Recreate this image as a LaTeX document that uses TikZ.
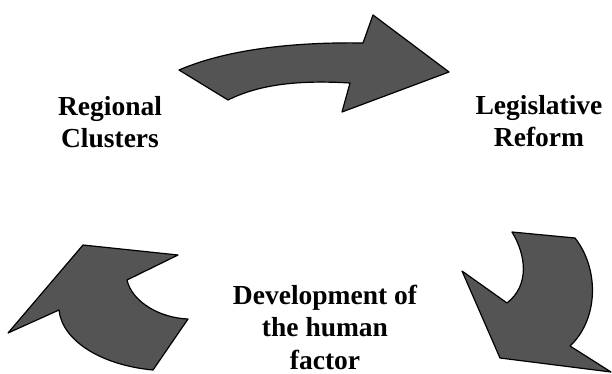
\documentclass[tikz,border=0pt]{standalone}
\usepackage{fontspec}
\setmainfont{Liberation Serif}
\definecolor{arrowfill}{RGB}{84,84,84}
\begin{document}
\begin{tikzpicture}[x=1pt,y=-1pt,
  cyclearrow/.style={fill=arrowfill,draw=black,line width=1.2pt,line join=round},
  label/.style={font=\bfseries\fontsize{27.5}{32.5}\selectfont,align=center,text=black}]
\useasboundingbox (0,0) rectangle (612,374);

% curved arrow: Regional Clusters -> Legislative Reform
\filldraw[cyclearrow] (179,70) .. controls (230,48) and (300,42) .. (363,43)
  -- (373,15) -- (449,72) -- (342,112) -- (350,83)
  .. controls (300,80) and (260,84) .. (228,100) -- cycle;

% curved arrow: Legislative Reform -> Development of the human factor
\filldraw[cyclearrow] (512,232) -- (575,238)
  .. controls (600,270) and (598,320) .. (570,346)
  -- (611,372) -- (500,358) -- (462,271) -- (507,303)
  .. controls (530,285) and (526,255) .. (512,232) -- cycle;

% curved arrow: Development of the human factor -> Regional Clusters
\filldraw[cyclearrow] (83,245) -- (178,255) -- (127,280)
  .. controls (132,302) and (160,318) .. (188,319)
  -- (153,370)
  .. controls (100,365) and (62,340) .. (59,310)
  -- (8,333) -- cycle;

\node[label] (rc) at (110,122) {Regional\\Clusters};
\node[label] (lr) at (539,121) {Legislative\\Reform};
\node[label] (dh) at (325,327) {Development of\\the human\\factor};
\end{tikzpicture}
\end{document}
